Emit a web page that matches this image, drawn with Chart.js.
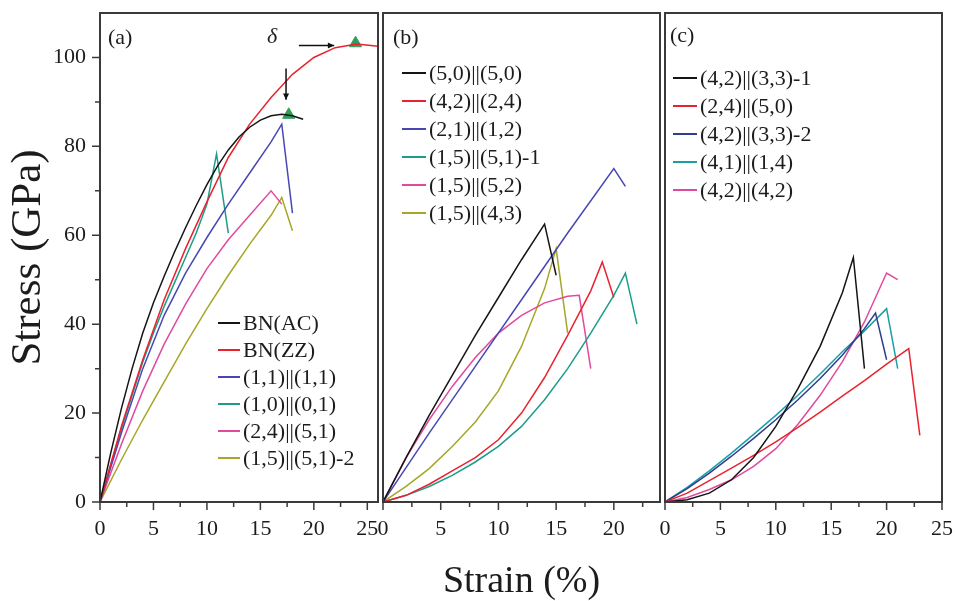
<!DOCTYPE html>
<html lang="en">
<head>
<meta charset="UTF-8">
<title>Stress-strain curves</title>
<script src="https://cdn.jsdelivr.net/npm/chart.js@4"></script>
<style>
    html, body { margin: 0; padding: 0; background: #fff; overflow: hidden; }
    #wrap { position: relative; width: 956px; height: 601px; }
    .panel { position: absolute; top: 0; height: 601px; }
</style>
</head>
<body>
<div id="wrap">
    <div class="panel" style="left:0px;width:386px"><canvas id="chartA"></canvas></div>
    <div class="panel" style="left:370px;width:300px"><canvas id="chartB"></canvas></div>
    <div class="panel" style="left:652px;width:304px"><canvas id="chartC"></canvas></div>
</div>
<script>
// ---- data, panel (a) ----
var aX_AC = [0, 1, 2, 3, 4, 5, 6, 7, 8, 9, 10, 11, 12, 13, 14, 15, 16, 17, 18, 19];
var aY_AC = [0, 11, 21, 30, 38, 44.8, 50.8, 56.4, 61.7, 66.7, 71.4, 75.6, 79.2, 82.1, 84.3, 85.9, 86.9, 87.2, 86.9, 86.1];
var aX_ZZ = [0, 2, 4, 6, 8, 10, 12, 14, 16, 18, 20, 22, 24, 26];
var aY_ZZ = [0, 17, 32, 45.5, 57, 67.5, 77.5, 85, 91, 96.2, 100, 102.2, 103, 102.5];
var aX_11 = [0, 2, 4, 6, 8, 10, 12, 14, 16, 17, 18];
var aY_11 = [0, 15.5, 30, 42, 51.5, 59.5, 67, 74, 81, 85, 65];
var aX_10 = [0, 2, 4, 5, 6, 8, 9, 10, 10.9, 12];
var aY_10 = [0, 16.5, 31.5, 38, 44, 55, 60.5, 67, 78.3, 60.5];
var aX_24 = [0, 2, 4, 6, 8, 10, 12, 14, 16, 17];
var aY_24 = [0, 13, 25, 35.5, 44.5, 52.5, 59, 64.5, 70, 67];
var aX_15 = [0, 2, 4, 6, 8, 10, 12, 14, 16, 17, 18];
var aY_15 = [0, 9.5, 18.5, 27, 35.5, 43.5, 51, 58, 64.5, 68.5, 61];
var aLabels = ['BN(AC)', 'BN(ZZ)', '(1,1)||(1,1)', '(1,0)||(0,1)', '(2,4)||(5,1)', '(1,5)||(5,1)-2'];

// green triangles and the two arrows of panel (a)
var markX = [17.65, 23.9];
var markY = [87.1, 103.2];
var arrowH_X = [18.6, 21.9];
var arrowH_Y = [102.7, 102.7];
var arrowV_X = [17.4, 17.4];
var arrowV_Y = [97.5, 90.5];
var deltaX = 16.1, deltaY = 104.6;

// ---- data, panel (b) ----
var bX_50 = [0, 2, 4, 6, 8, 10, 12, 14, 15];
var bY_50 = [0, 10, 19.5, 28.5, 37.5, 46, 54.5, 62.5, 51];
var bX_42 = [0, 2, 4, 6, 8, 10, 12, 14, 16, 18, 19, 20];
var bY_42 = [0, 1.5, 4, 7, 10, 14, 20, 28, 37.5, 47.5, 54, 46];
var bX_21 = [0, 4, 8, 12, 16, 20, 21];
var bY_21 = [0, 15.5, 30.5, 45.5, 60.5, 75, 71];
var bX_151 = [0, 2, 4, 6, 8, 10, 12, 14, 16, 18, 20, 21, 22];
var bY_151 = [0, 1.5, 3.5, 6, 9, 12.5, 17, 23, 30, 38, 46.5, 51.5, 40];
var bX_152 = [0, 2, 4, 6, 8, 10, 12, 14, 16, 17, 18];
var bY_152 = [0, 10, 18.5, 26, 32.5, 38, 42, 44.8, 46.3, 46.5, 30];
var bX_143 = [0, 2, 4, 6, 8, 10, 12, 14, 15, 16];
var bY_143 = [0, 3.5, 7.5, 12.5, 18, 25, 35, 48, 57, 38];
var bLabels = ['(5,0)||(5,0)', '(4,2)||(2,4)', '(2,1)||(1,2)', '(1,5)||(5,1)-1', '(1,5)||(5,2)', '(1,5)||(4,3)'];

// ---- data, panel (c) ----
var cX_331 = [0, 2, 4, 6, 8, 10, 12, 14, 16, 17, 18];
var cY_331 = [0, 0.5, 2, 5, 10, 17, 25.5, 35, 47, 55, 30];
var cX_2450 = [0, 2, 4, 6, 8, 10, 12, 14, 16, 18, 20, 22, 23];
var cY_2450 = [0, 2, 4.8, 7.6, 10.5, 13.5, 16.8, 20.2, 23.8, 27.3, 31, 34.5, 15];
var cX_332 = [0, 2, 4, 6, 8, 10, 12, 14, 16, 18, 19, 20];
var cY_332 = [0, 3, 6.5, 10.3, 14.3, 18.5, 23, 27.8, 33, 39, 42.5, 32];
var cX_4114 = [0, 2, 4, 6, 8, 10, 12, 14, 16, 18, 20, 21];
var cY_4114 = [0, 3.3, 7, 11, 15.2, 19.5, 24, 28.8, 33.8, 38.5, 43.5, 30];
var cX_4242 = [0, 2, 4, 6, 8, 10, 12, 14, 16, 18, 20, 21];
var cY_4242 = [0, 1, 2.8, 5, 8, 12, 17.5, 24, 31.5, 40.5, 51.5, 50];
var cLabels = ['(4,2)||(3,3)-1', '(2,4)||(5,0)', '(4,2)||(3,3)-2', '(4,1)||(1,4)', '(4,2)||(4,2)'];

// ---- ticks ----
var xTicksA = [0, 5, 10, 15, 20, 25];
var xTicksB = [0, 5, 10, 15, 20];
var xTicksC = [0, 5, 10, 15, 20, 25];
var yTicks = [0, 20, 40, 60, 80, 100];
var yMinor = [10, 30, 50, 70, 90];

var serif = "'Liberation Serif', 'Times New Roman', serif";
var ink = '#1c1c1c';
var frameColor = '#3a3a3a';
var black = '#151515', red = '#e8232f', blue = '#4848b4', teal = '#1d9c8a',
    pink = '#e04a9e', olive = '#a6a62a', navy = '#2f3d8e', cyan = '#1a9fa6';

function pts(xs, ys) {
    return xs.map(function (x, i) { return { x: x, y: ys[i] }; });
}

function curve(label, xs, ys, color) {
    return {
        label: label, data: pts(xs, ys),
        borderColor: color, backgroundColor: color,
        borderWidth: 1.5, pointRadius: 0, tension: 0, fill: false
    };
}

function minorOf(major) {
    var out = [];
    major.forEach(function (v) { out.push(v + 2.5); });
    return out;
}

// frame, outward ticks, legend, panel tag and annotations
var decor = {
    id: 'decor',
    afterDatasetsDraw: function (chart, args, o) {
        var ctx = chart.ctx, a = chart.chartArea;
        var xs = chart.scales.x, ys = chart.scales.y;
        ctx.save();

        // ticks
        ctx.strokeStyle = frameColor;
        ctx.lineWidth = 1.5;
        ctx.beginPath();
        o.xMajor.forEach(function (v) {
            var px = xs.getPixelForValue(v);
            ctx.moveTo(px, a.bottom); ctx.lineTo(px, a.bottom + 8);
        });
        o.xMinor.forEach(function (v) {
            if (v > xs.max) return;
            var px = xs.getPixelForValue(v);
            ctx.moveTo(px, a.bottom); ctx.lineTo(px, a.bottom + 5);
        });
        if (o.yAxis) {
            yTicks.forEach(function (v) {
                var py = ys.getPixelForValue(v);
                ctx.moveTo(a.left, py); ctx.lineTo(a.left - 8, py);
            });
            yMinor.forEach(function (v) {
                var py = ys.getPixelForValue(v);
                ctx.moveTo(a.left, py); ctx.lineTo(a.left - 5, py);
            });
        }
        ctx.stroke();

        // arrows
        (o.arrows || []).forEach(function (ar) {
            var x0 = xs.getPixelForValue(ar.x[0]), y0 = ys.getPixelForValue(ar.y[0]);
            var x1 = xs.getPixelForValue(ar.x[1]), y1 = ys.getPixelForValue(ar.y[1]);
            var ang = Math.atan2(y1 - y0, x1 - x0);
            ctx.strokeStyle = '#111';
            ctx.fillStyle = '#111';
            ctx.lineWidth = 1.5;
            ctx.beginPath(); ctx.moveTo(x0, y0); ctx.lineTo(x1, y1); ctx.stroke();
            ctx.beginPath();
            ctx.moveTo(x1, y1);
            ctx.lineTo(x1 - 7 * Math.cos(ang - 0.45), y1 - 7 * Math.sin(ang - 0.45));
            ctx.lineTo(x1 - 7 * Math.cos(ang + 0.45), y1 - 7 * Math.sin(ang + 0.45));
            ctx.closePath(); ctx.fill();
        });
        if (o.delta) {
            ctx.fillStyle = ink;
            ctx.font = 'italic 22px ' + serif;
            ctx.textAlign = 'center';
            ctx.textBaseline = 'middle';
            ctx.fillText('\u03b4', xs.getPixelForValue(o.delta[0]), ys.getPixelForValue(o.delta[1]));
        }

        // legend
        var lg = o.legend;
        ctx.font = '22px ' + serif;
        ctx.textAlign = 'left';
        ctx.textBaseline = 'middle';
        var row = 0;
        chart.data.datasets.forEach(function (d) {
            if (d.inLegend === false) return;
            var y = lg.y + row * lg.step;
            var x = a.left + lg.dx;
            ctx.strokeStyle = d.borderColor;
            ctx.lineWidth = 2;
            ctx.beginPath(); ctx.moveTo(x, y); ctx.lineTo(x + lg.len, y); ctx.stroke();
            ctx.fillStyle = ink;
            ctx.fillText(d.label, x + lg.len + 3, y + 1);
            row++;
        });

        // panel tag
        ctx.font = '22px ' + serif;
        ctx.fillStyle = ink;
        ctx.fillText(o.tag, a.left + o.tagDx, o.tagY);

        // frame
        ctx.strokeStyle = frameColor;
        ctx.lineWidth = 2;
        ctx.strokeRect(a.left, a.top, a.right - a.left, a.bottom - a.top);
        ctx.restore();
    }
};

function xScale(max, ticks, showTitle) {
    return {
        type: 'linear', min: 0, max: max,
        afterBuildTicks: function (s) { s.ticks = ticks.map(function (v) { return { value: v }; }); },
        ticks: { padding: 3, color: ink, font: { family: serif, size: 22 }, maxRotation: 0, autoSkip: false },
        grid: { drawOnChartArea: false, drawTicks: true, tickLength: 11, tickColor: 'rgba(0,0,0,0)' },
        border: { display: false },
        title: {
            display: showTitle, text: 'Strain (%)', color: ink,
            font: { family: serif, size: 38, lineHeight: 1 }, padding: { top: 0, bottom: 0 }
        },
        afterFit: function (s) { s.height = 99; s.paddingLeft = 0; s.paddingRight = 0; }
    };
}

function yScale(show) {
    return {
        type: 'linear', min: 0, max: 110, display: show,
        afterBuildTicks: function (s) { s.ticks = yTicks.map(function (v) { return { value: v }; }); },
        ticks: { padding: 3, color: ink, font: { family: serif, size: 22 } },
        grid: { drawOnChartArea: false, drawTicks: true, tickLength: 11, tickColor: 'rgba(0,0,0,0)' },
        border: { display: false },
        title: {
            display: true, text: 'Stress (GPa)', color: ink,
            font: { family: serif, size: 43, lineHeight: 1 }, padding: { top: 7, bottom: 0 }
        },
        afterFit: function (s) { s.width = show ? 100 : 0; s.paddingTop = 0; s.paddingBottom = 0; }
    };
}

function makeChart(id, datasets, xMax, xTicks, yShow, showXTitle, pad, decorOpts) {
    var ctx = document.getElementById(id).getContext('2d');
    return new Chart(ctx, {
        type: 'line',
        data: { datasets: datasets },
        options: {
            responsive: true,
            maintainAspectRatio: false,
            animation: false,
            devicePixelRatio: 1,
            layout: { padding: pad },
            plugins: { legend: { display: false }, tooltip: { enabled: false }, decor: decorOpts },
            scales: { x: xScale(xMax, xTicks, showXTitle), y: yScale(yShow) }
        },
        plugins: [decor]
    });
}

var setA = [
    curve(aLabels[0], aX_AC, aY_AC, black),
    curve(aLabels[1], aX_ZZ, aY_ZZ, red),
    curve(aLabels[2], aX_11, aY_11, blue),
    curve(aLabels[3], aX_10, aY_10, teal),
    curve(aLabels[4], aX_24, aY_24, pink),
    curve(aLabels[5], aX_15, aY_15, olive),
    {
        label: 'max', data: pts(markX, markY), inLegend: false, showLine: false,
        pointStyle: 'triangle', pointRadius: 7, backgroundColor: '#2f9d5c', borderColor: '#2f9d5c'
    }
];
var setB = [
    curve(bLabels[0], bX_50, bY_50, black),
    curve(bLabels[1], bX_42, bY_42, red),
    curve(bLabels[2], bX_21, bY_21, blue),
    curve(bLabels[3], bX_151, bY_151, teal),
    curve(bLabels[4], bX_152, bY_152, pink),
    curve(bLabels[5], bX_143, bY_143, olive)
];
var setC = [
    curve(cLabels[0], cX_331, cY_331, black),
    curve(cLabels[1], cX_2450, cY_2450, red),
    curve(cLabels[2], cX_332, cY_332, navy),
    curve(cLabels[3], cX_4114, cY_4114, cyan),
    curve(cLabels[4], cX_4242, cY_4242, pink)
];

makeChart('chartA', setA, 26, xTicksA, true, false, { top: 13, right: 8, left: 0, bottom: 0 }, {
    tag: '(a)', tagDx: 8, tagY: 38, yAxis: true,
    xMajor: xTicksA, xMinor: minorOf(xTicksA),
    legend: { dx: 118, y: 323, step: 27, len: 22 },
    arrows: [{ x: arrowH_X, y: arrowH_Y }, { x: arrowV_X, y: arrowV_Y }],
    delta: [deltaX, deltaY]
});
makeChart('chartB', setB, 24, xTicksB, false, true, { top: 13, right: 10, left: 13, bottom: 0 }, {
    tag: '(b)', tagDx: 10, tagY: 38, yAxis: false,
    xMajor: xTicksB, xMinor: minorOf(xTicksB),
    legend: { dx: 19, y: 73, step: 28, len: 24 }
});
makeChart('chartC', setC, 25, xTicksC, false, false, { top: 13, right: 14, left: 13, bottom: 0 }, {
    tag: '(c)', tagDx: 5, tagY: 36, yAxis: false,
    xMajor: xTicksC, xMinor: minorOf(xTicksC),
    legend: { dx: 8, y: 78, step: 28, len: 24 }
});
</script>
</body>
</html>
